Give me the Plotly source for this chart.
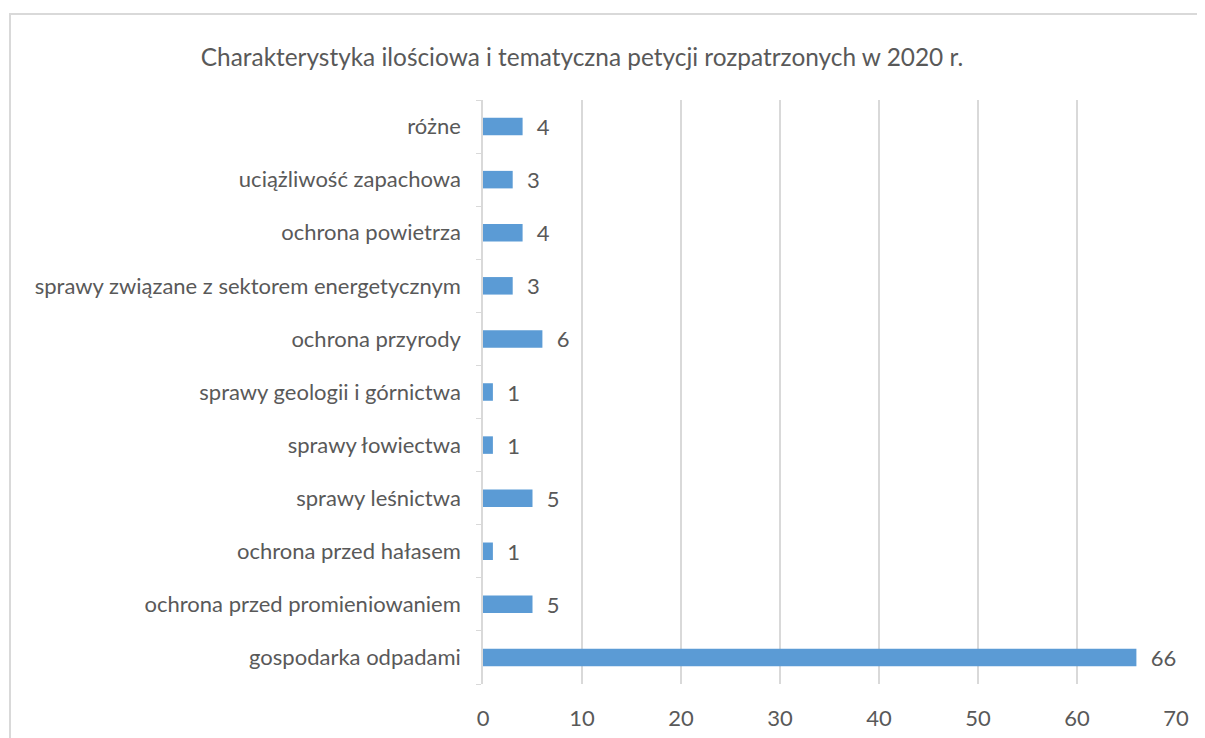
import plotly.graph_objects as go

categories = [
    "gospodarka odpadami",
    "ochrona przed promieniowaniem",
    "ochrona przed hałasem",
    "sprawy leśnictwa",
    "sprawy łowiectwa",
    "sprawy geologii i górnictwa",
    "ochrona przyrody",
    "sprawy związane z sektorem energetycznym",
    "ochrona powietrza",
    "uciążliwość zapachowa",
    "różne",
]
values = [66, 5, 1, 5, 1, 1, 6, 3, 4, 3, 4]
x_ticks = [0, 10, 20, 30, 40, 50, 60, 70]
title = "Charakterystyka ilościowa i tematyczna petycji rozpatrzonych w 2020 r."

OFF = 8  # default page body margin
W, H = 1205 - OFF, 738 - OFF
L = 483 - OFF
R = W - (1176 - OFF)
T = 100 - OFF
B = H - (684 - OFF)
pw, ph = W - L - R, H - T - B

def px(x):
    return (x - OFF - L) / pw

def py(y):
    return (H - B - (y - OFF)) / ph

font = "Lato"
grey = "#595959"

fig = go.Figure(go.Bar(
    x=values, y=categories, orientation="h",
    marker=dict(color="#5B9BD5", line=dict(width=0)),
    width=0.33,
    text=values, texttemplate="  %{x}", textposition="outside",
    constraintext="none",
    textfont=dict(family=font, size=22, color=grey),
    cliponaxis=False,
))

fig.update_layout(
    width=W, height=H,
    margin=dict(l=L, r=R, t=T, b=B, autoexpand=False),
    paper_bgcolor="white", plot_bgcolor="white",
    showlegend=False,
    font=dict(family=font, size=22, color=grey),
    title=dict(text=title, x=px(582), xref="paper", xanchor="center",
               y=1 - (57 - OFF) / H, yanchor="middle",
               font=dict(family=font, size=24.4, color=grey)),
    xaxis=dict(range=[0, 70], tickvals=x_ticks, showgrid=True,
               gridcolor="#D9D9D9", gridwidth=1.5, zeroline=False,
               showline=False, ticks="", ticklabelstandoff=19,
               automargin=False,
               tickfont=dict(family=font, size=22, color=grey)),
    yaxis=dict(showline=True, linecolor="#D9D9D9", linewidth=1.5,
               ticks="outside", tickson="boundaries", ticklen=5,
               tickcolor="#D9D9D9", showgrid=False, ticklabelstandoff=16,
               automargin=False,
               tickfont=dict(family=font, size=22, color=grey)),
    shapes=[dict(type="rect", xref="paper", yref="paper",
                 x0=px(10), x1=px(1215), y0=py(748), y1=py(14),
                 line=dict(color="#D9D9D9", width=2), layer="below")],
)

fig.write_html("out.html")
